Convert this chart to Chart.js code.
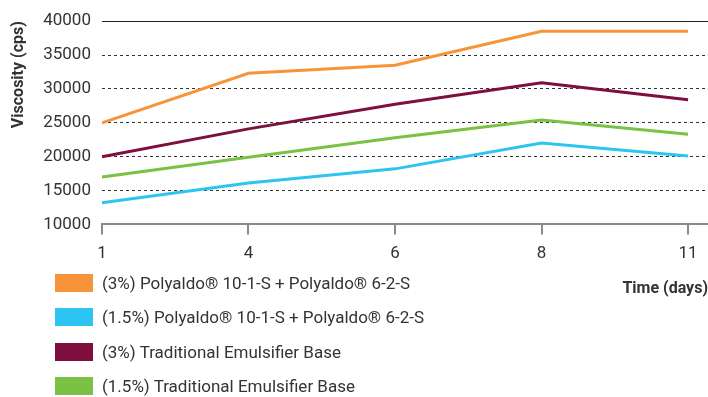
<!DOCTYPE html>
<html>
<head>
<meta charset="utf-8">
<script src="https://cdn.jsdelivr.net/npm/chart.js@4.4.1/dist/chart.umd.min.js"></script>
<style>
  body { margin: 0; background: #fff; font-family: Roboto, sans-serif; }
  #wrap { position: relative; width: 708px; height: 397px; }
  #legend { position: absolute; left: 55px; top: 274px; }
  .item { display: flex; align-items: center; height: 34.3px; }
  .item .box { width: 38px; height: 18px; margin-right: 9px; margin-top: -16px; }
  .item span { font-size: 17px; color: #333; margin-top: -16px; }
</style>
</head>
<body>
<div id="wrap">
  <canvas id="viscosityChart" width="708" height="397"></canvas>
  <div id="legend"></div>
</div>
<script>
// day labels (equally spaced on the chart)
const days = ['1', '4', '6', '8', '11'];

// viscosity values (cps)
const poly3 = [25000, 32300, 33500, 38500, 38500];
const poly15 = [13200, 16100, 18200, 22000, 20100];
const trad3 = [20000, 24100, 27750, 30900, 28400];
const trad15 = [17000, 19900, 22800, 25400, 23300];

const seriesNames = [
    '(3%) Polyaldo® 10-1-S + Polyaldo® 6-2-S',
    '(1.5%) Polyaldo® 10-1-S + Polyaldo® 6-2-S',
    '(3%) Traditional Emulsifier Base',
    '(1.5%) Traditional Emulsifier Base'
];
const seriesColors = ['#F7943A', '#2DC4F2', '#7E0F3E', '#7BC143'];

const toPoints = arr => arr.map((v, i) => ({ x: i, y: v }));

const ctx = document.getElementById('viscosityChart').getContext('2d');

const viscosityChart = new Chart(ctx, {
    type: 'line',
    data: {
        datasets: [poly3, poly15, trad3, trad15].map((arr, i) => ({
            label: seriesNames[i],
            data: toPoints(arr),
            borderColor: seriesColors[i],
            backgroundColor: seriesColors[i],
            borderWidth: 3,
            pointRadius: 0,
            tension: 0,
            fill: false
        }))
    },
    options: {
        responsive: false,
        animation: false,
        layout: { padding: { top: 10, right: 0, bottom: 98, left: 9 } },
        plugins: {
            legend: { display: false },
            tooltip: { enabled: false }
        },
        scales: {
            x: {
                type: 'linear',
                min: 0,
                max: 4.136,
                ticks: {
                    stepSize: 1,
                    includeBounds: false,
                    autoSkip: false,
                    maxRotation: 0,
                    color: '#333',
                    font: { family: 'Roboto', size: 17 },
                    padding: 9,
                    callback: value => days[value]
                },
                grid: { drawOnChartArea: false, drawTicks: true, tickLength: 10, color: '#8a8a8a', lineWidth: 2 },
                border: { display: true, color: '#8a8a8a', width: 2 },
                title: {
                    display: true,
                    text: 'Time (days)',
                    align: 'end',
                    color: '#333',
                    font: { family: 'Roboto', size: 16, weight: 'bold' },
                    padding: { top: 7, bottom: 0 }
                }
            },
            y: {
                min: 10000,
                max: 40000,
                ticks: {
                    stepSize: 5000,
                    color: '#333',
                    font: { family: 'Roboto', size: 17 },
                    padding: 11,
                    callback: value => String(value)
                },
                grid: {
                    drawTicks: false,
                    lineWidth: 1,
                    color: c => {
                        if (!c.tick) return '#333';
                        if (c.tick.value === 10000) return 'rgba(0,0,0,0)';
                        return c.tick.value === 40000 ? '#222' : '#333';
                    }
                },
                border: {
                    display: false,
                    dash: c => (c.tick && c.tick.value === 40000) ? [] : [3, 3]
                },
                title: {
                    display: true,
                    text: 'Viscosity (cps)',
                    align: 'end',
                    color: '#333',
                    font: { family: 'Roboto', size: 16, weight: 'bold' },
                    padding: { top: 0, bottom: 4 }
                }
            }
        }
    }
});

// build the legend from the chart datasets
const legendEl = document.getElementById('legend');
viscosityChart.data.datasets.forEach(ds => {
    const row = document.createElement('div');
    row.className = 'item';
    const box = document.createElement('div');
    box.className = 'box';
    box.style.background = ds.backgroundColor;
    const label = document.createElement('span');
    label.textContent = ds.label;
    row.appendChild(box);
    row.appendChild(label);
    legendEl.appendChild(row);
});
</script>
</body>
</html>
